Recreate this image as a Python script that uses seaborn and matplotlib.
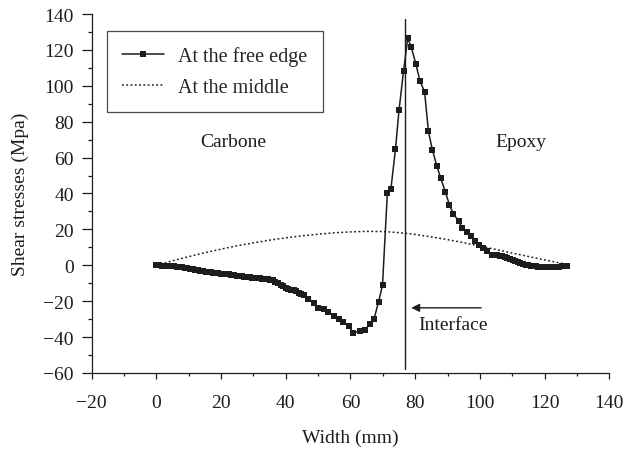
import matplotlib
matplotlib.use("Agg")
import matplotlib.pyplot as plt
import seaborn as sns
import pandas as pd
from matplotlib.lines import Line2D
from matplotlib.ticker import MultipleLocator

# ---- data ----
edge_x = [0, 0.8, 1.6, 2.4, 3.2, 4.0, 4.8, 5.6, 6.4, 7.2, 8.0, 8.8, 9.6, 10.4, 11.2, 12.0, 12.8,
          13.6, 14.4, 15.2, 16.0, 16.8, 17.6, 18.4, 19.2, 20.0, 20.8, 21.6, 22.4, 23.2, 24.0, 24.8,
          25.6, 26.4, 27.2, 28.0, 28.8, 29.6, 30.4, 31.2, 32.0, 32.8, 33.6, 34.4, 35.2, 36.0, 36.8,
          37.6, 38.4, 39.2, 40.0, 40.8, 41.6, 42.4, 43.2, 44.0, 44.8,
          45.5, 47.0, 48.6, 50.1, 51.7, 53.2, 54.8, 56.6, 57.8, 59.4, 60.9, 62.8, 64.5, 66.1, 67.3,
          68.7, 69.9, 71.4, 72.5, 73.9, 75.0, 76.4, 77.7, 78.8, 80.2, 81.5, 82.9, 84.1, 85.3, 86.7,
          87.9, 89.3, 90.6, 91.8, 93.4, 94.6, 96.0, 97.2, 98.5, 99.8, 101.1, 102.3,
          103.7, 104.5, 105.3, 106.1, 106.9, 107.7, 108.5, 109.3, 110.1, 110.9, 111.7, 112.5, 113.3,
          114.1, 114.9, 115.7, 116.5, 117.3, 118.1, 118.9, 119.7, 120.5, 121.3, 122.1, 122.9, 123.7,
          124.5, 125.3, 126.1, 127.0]
edge_y = [0, -0.1, -0.2, -0.3, -0.4, -0.5, -0.5, -0.6, -0.8, -1.0, -1.2, -1.4, -1.7, -1.9, -2.2,
          -2.5, -2.7, -3.0, -3.3, -3.6, -3.8, -4.0, -4.1, -4.3, -4.4, -4.6, -4.8, -4.9, -5.1, -5.3,
          -5.5, -5.8, -6.0, -6.2, -6.4, -6.6, -6.8, -6.9, -7.0, -7.1, -7.3, -7.4, -7.6, -7.8, -8.0,
          -8.4, -9.2, -10.0, -11.0, -11.8, -12.5, -13.0, -13.5, -14.0, -14.6, -15.3, -16.0,
          -16.5, -19.0, -20.9, -23.7, -24.6, -25.9, -28.4, -30.2, -31.7, -34.0, -37.5, -36.8, -35.8,
          -32.5, -29.7, -20.3, -11.0, 40.3, 42.6, 64.6, 86.4, 108.2, 126.5, 121.5, 112.2, 102.6,
          96.7, 74.6, 64.4, 55.3, 48.5, 41.0, 33.6, 28.6, 24.8, 20.7, 18.3, 16.1, 13.6, 11.2, 9.4,
          8.0,
          6.0, 5.8, 5.6, 5.3, 5.0, 4.6, 4.1, 3.6, 3.0, 2.3, 1.7, 1.1, 0.6, 0.2, -0.1, -0.3, -0.5,
          -0.6, -0.8, -0.9, -1.0, -1.0, -1.0, -0.9, -0.9, -0.8, -0.7, -0.6, -0.5, -0.4]

mid_x = [0, 5, 10, 15, 20, 25, 30, 35, 40, 45, 50, 55, 60, 65, 70, 75, 80, 85, 90, 95, 100, 105,
         110, 115, 120, 125, 127]
mid_y = [0, 2.5, 4.8, 7.0, 9.0, 10.9, 12.5, 14.0, 15.3, 16.4, 17.3, 18.1, 18.6, 18.9, 18.8, 18.2,
         17.2, 15.8, 14.3, 12.6, 10.7, 8.8, 6.8, 4.9, 3.0, 1.2, 0.5]

series_labels = ["At the free edge", "At the middle"]
x_ticks = [-20, 0, 20, 40, 60, 80, 100, 120, 140]
y_ticks = [-60, -40, -20, 0, 20, 40, 60, 80, 100, 120, 140]
interface_x = 76.7

INK = "#1e1c1d"
FS = 14

sns.set_theme(style="ticks")
plt.rcParams["font.family"] = ["Liberation Serif", "DejaVu Serif"]
plt.rcParams["axes.unicode_minus"] = True

fig = plt.figure(figsize=(6.38, 4.52), dpi=100)
ax = fig.add_axes([0.1437, 0.1726, 0.9550 - 0.1437, 0.9668 - 0.1726])

edge_df = pd.DataFrame({"x": edge_x, "y": edge_y})
mid_df = pd.DataFrame({"x": mid_x, "y": mid_y})

sns.lineplot(data=edge_df, x="x", y="y", ax=ax, color=INK, linewidth=1.1,
             marker="s", markersize=4.9, markeredgewidth=0, sort=False)
sns.lineplot(data=mid_df, x="x", y="y", ax=ax, color=INK, linewidth=1.1,
             linestyle=(0, (1.2, 1.6)), sort=False)

# interface line
ax.plot([interface_x, interface_x], [137, -58], color=INK, linewidth=1.0)
ax.annotate("", xy=(78.8, -23.7), xytext=(100.4, -23.7),
            arrowprops=dict(arrowstyle="-|>", color=INK, lw=1.0,
                            mutation_scale=12, shrinkA=0, shrinkB=0))
ax.text(80.8, -33, "Interface", fontsize=FS, va="center", ha="left", color=INK)
ax.text(23.8, 69, "Carbone", fontsize=FS, va="center", ha="center", color=INK)
ax.text(112.7, 69, "Epoxy", fontsize=FS, va="center", ha="center", color=INK)

ax.set_xlim(-20, 140)
ax.set_ylim(-60, 140)
ax.set_xticks(x_ticks)
ax.set_yticks(y_ticks)
ax.xaxis.set_minor_locator(MultipleLocator(10))
ax.yaxis.set_minor_locator(MultipleLocator(10))
ax.tick_params(axis="y", which="major", direction="out", length=7, width=0.9,
               labelsize=FS, colors=INK, pad=6)
ax.tick_params(axis="y", which="minor", direction="out", length=3, width=0.9, colors=INK)
ax.tick_params(axis="x", which="major", direction="out", length=4, width=0.9,
               labelsize=FS, colors=INK, pad=11)
ax.tick_params(axis="x", which="minor", direction="out", length=2, width=0.9, colors=INK)
ax.set_xlabel("Width (mm)", fontsize=FS, color=INK, labelpad=13)
ax.set_ylabel("Shear stresses (Mpa)", fontsize=FS, color=INK, labelpad=10)

for side in ["top", "right"]:
    ax.spines[side].set_visible(False)
for side in ["left", "bottom"]:
    ax.spines[side].set_linewidth(0.9)
    ax.spines[side].set_color(INK)

handles = [
    Line2D([], [], color=INK, linewidth=1.1, marker="s", markersize=4.9, markeredgewidth=0),
    Line2D([], [], color=INK, linewidth=1.1, linestyle=(0, (1.2, 1.6))),
]
leg = ax.legend(handles, series_labels, loc="upper left", bbox_to_anchor=(0.0296, 0.953),
                fontsize=14.5, frameon=True, fancybox=False, borderpad=0.75,
                borderaxespad=0, handlelength=2.1, handletextpad=0.7, labelspacing=0.6,
                numpoints=1)
leg.get_frame().set_edgecolor(INK)
leg.get_frame().set_linewidth(0.9)

fig.savefig("out.png", dpi=100)
